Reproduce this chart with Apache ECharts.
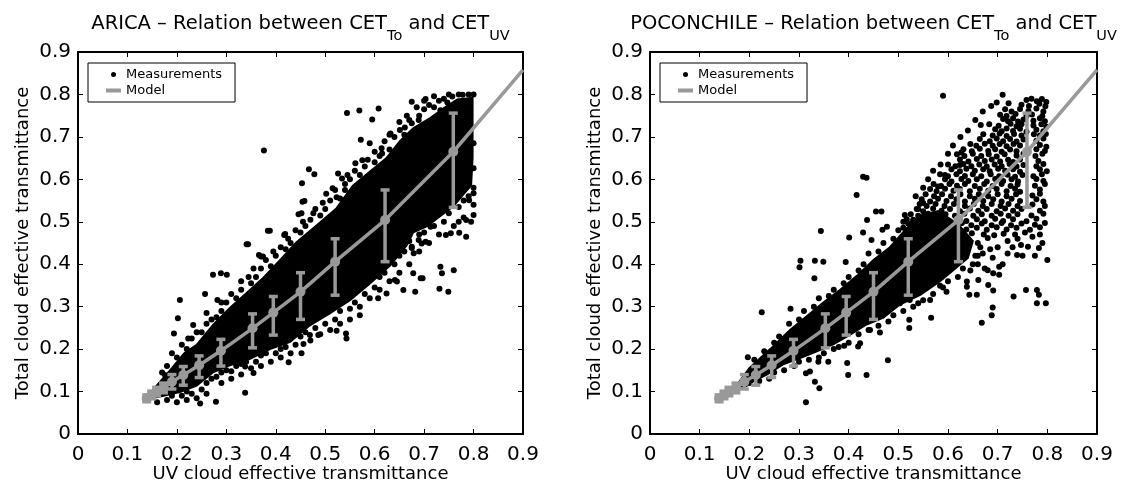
<!DOCTYPE html>
<html><head><meta charset="utf-8">
<script src="https://cdn.jsdelivr.net/npm/echarts@6/dist/echarts.min.js"></script>
<style>html,body{margin:0;padding:0;background:#fff}#c{width:1136px;height:491px}</style>
</head><body><div id="c"></div>
<script>
const FONT = 'DejaVu Sans';
const GRAY = '#999999';

// Axis ticks (both panels)
const axisMin = 0, axisMax = 0.9, axisStep = 0.1;

// Model (identical in both panels): bin centres, error bar ends, line end
const modelX  = [0.139,0.149,0.159,0.173,0.190,0.213,0.245,0.289,0.353,0.395,0.450,0.520,0.621,0.759];
const modelY  = [0.084,0.092,0.100,0.108,0.123,0.139,0.162,0.196,0.249,0.286,0.335,0.406,0.504,0.665];
const modelLo = [0.076,0.083,0.090,0.097,0.106,0.115,0.133,0.160,0.203,0.233,0.270,0.327,0.406,0.534];
const modelHi = [0.092,0.101,0.110,0.120,0.140,0.159,0.184,0.223,0.283,0.324,0.380,0.460,0.575,0.756];
const modelEnd = [0.9, 0.858];

// ARICA: outline of the saturated (solid black) cloud
const aricaCore = [
 [0.145,0.095],[0.16,0.115],[0.19,0.155],[0.215,0.19],[0.24,0.21],[0.274,0.258],[0.307,0.297],[0.341,0.332],
 [0.375,0.368],[0.409,0.41],[0.442,0.452],[0.483,0.492],[0.523,0.532],[0.556,0.585],[0.59,0.618],[0.624,0.65],
 [0.651,0.69],[0.678,0.72],[0.713,0.745],[0.74,0.768],[0.767,0.788],[0.798,0.792],
 [0.798,0.72],[0.798,0.65],[0.795,0.585],
 [0.781,0.567],[0.76,0.538],[0.733,0.514],[0.706,0.49],[0.678,0.475],[0.665,0.445],[0.631,0.397],[0.591,0.355],
 [0.55,0.315],[0.51,0.285],[0.469,0.256],[0.429,0.217],[0.388,0.2],[0.348,0.177],[0.307,0.162],[0.274,0.146],
 [0.24,0.114],[0.206,0.099],[0.173,0.09],[0.15,0.085]
];
// ARICA: individual measurements outside / on the edge of the solid cloud
const aricaPoints = [
 [0.376,0.668],[0.544,0.756],[0.569,0.762],[0.595,0.741],[0.608,0.767],[0.467,0.624],[0.478,0.612],[0.344,0.447],
 [0.374,0.418],[0.388,0.479],[0.419,0.471],[0.452,0.52],[0.458,0.549],[0.502,0.566],[0.515,0.579],[0.523,0.558],
 [0.526,0.614],[0.534,0.602],[0.54,0.589],[0.561,0.638],[0.572,0.693],[0.59,0.685],[0.586,0.646],[0.614,0.673],
 [0.615,0.661],[0.632,0.708],[0.651,0.716],[0.661,0.722],[0.675,0.732],[0.689,0.74],[0.675,0.783],[0.703,0.789],
 [0.72,0.796],[0.733,0.763],[0.747,0.781],[0.757,0.795],[0.778,0.799],[0.8,0.8],
 [0.8,0.685],[0.8,0.626],[0.788,0.606],[0.8,0.567],[0.791,0.551],[0.8,0.516],[0.785,0.504],[0.771,0.474],
 [0.754,0.473],[0.744,0.469],[0.785,0.465],[0.713,0.488],[0.706,0.506],[0.699,0.516],[0.726,0.54],[0.72,0.524],
 [0.675,0.441],[0.679,0.426],[0.703,0.453],[0.689,0.457],
 [0.454,0.547],[0.476,0.52],[0.446,0.518],[0.384,0.479],[0.417,0.469],[0.341,0.447],[0.37,0.418],[0.273,0.375],
 [0.289,0.379],[0.301,0.375],[0.257,0.33],[0.282,0.316],[0.206,0.316],[0.202,0.273],[0.194,0.237],[0.233,0.257],
 [0.223,0.225],[0.176,0.139],[0.338,0.159],[0.355,0.144],[0.338,0.097],[0.279,0.076],[0.247,0.072],[0.24,0.084],
 [0.426,0.169],[0.452,0.19],[0.456,0.212],[0.469,0.233],[0.486,0.233],[0.523,0.243],[0.543,0.225],[0.542,0.237],
 [0.57,0.28],[0.607,0.32],[0.624,0.331],[0.645,0.359],[0.678,0.379],[0.693,0.367],[0.682,0.335],[0.658,0.339],
 [0.695,0.449],[0.675,0.438],[0.733,0.394],[0.736,0.379],[0.76,0.386],[0.731,0.342],[0.749,0.335],[0.697,0.367],
 [0.641,0.363],[0.366,0.422],[0.453,0.591],
 [0.17,0.145],[0.18,0.16],[0.2,0.18],[0.22,0.2],[0.23,0.225],[0.25,0.24],[0.26,0.26],[0.28,0.275],[0.29,0.29],
 [0.3,0.31],[0.32,0.32],[0.33,0.34],[0.35,0.355],[0.36,0.37],[0.37,0.39],[0.39,0.395],[0.4,0.42],[0.42,0.435],
 [0.43,0.45],[0.45,0.475],[0.46,0.49],[0.47,0.505],[0.49,0.515],[0.5,0.53],[0.51,0.55],[0.53,0.555],[0.54,0.575],
 [0.55,0.6],[0.57,0.61],[0.58,0.63],[0.6,0.64],[0.61,0.655],[0.63,0.67],[0.64,0.7],[0.66,0.705],[0.67,0.74],
 [0.69,0.75],[0.7,0.765],[0.72,0.77],[0.73,0.785],[0.75,0.8],[0.77,0.8],[0.79,0.8],
 [0.19,0.19],[0.21,0.21],[0.24,0.24],[0.26,0.285],[0.27,0.27],[0.29,0.31],[0.31,0.33],[0.33,0.36],[0.345,0.37],
 [0.355,0.39],[0.38,0.41],[0.395,0.43],[0.41,0.44],[0.425,0.46],[0.44,0.48],[0.455,0.5],[0.48,0.53],[0.495,0.545],
 [0.52,0.575],[0.545,0.61],[0.56,0.62],[0.575,0.645],[0.6,0.665],[0.62,0.69],[0.63,0.705],[0.65,0.735],
 [0.665,0.75],[0.685,0.77],[0.7,0.785],[0.71,0.775],[0.74,0.79],
 [0.16,0.075],[0.18,0.08],[0.19,0.09],[0.21,0.09],[0.22,0.1],[0.23,0.095],[0.25,0.105],[0.26,0.12],[0.27,0.13],
 [0.28,0.135],[0.29,0.145],[0.3,0.15],[0.31,0.148],[0.32,0.16],[0.33,0.165],[0.34,0.17],[0.36,0.17],[0.37,0.185],
 [0.38,0.19],[0.4,0.19],[0.41,0.2],[0.42,0.205],[0.44,0.21],[0.45,0.23],[0.46,0.24],[0.48,0.25],[0.5,0.26],
 [0.52,0.27],[0.53,0.29],[0.55,0.295],[0.56,0.31],[0.58,0.33],[0.6,0.345],[0.61,0.37],[0.62,0.38],[0.64,0.4],
 [0.65,0.42],[0.66,0.43],[0.67,0.455],[0.69,0.47],[0.7,0.475],[0.72,0.49],[0.74,0.5],[0.75,0.52],[0.77,0.535],
 [0.78,0.55],[0.79,0.56],[0.8,0.58],
 [0.2,0.075],[0.22,0.08],[0.26,0.095],[0.29,0.12],[0.31,0.13],[0.33,0.14],[0.35,0.155],[0.37,0.16],[0.39,0.17],
 [0.41,0.18],[0.43,0.19],[0.47,0.22],[0.49,0.235],[0.51,0.245],[0.53,0.26],[0.55,0.27],[0.57,0.3],[0.59,0.32],
 [0.61,0.34],[0.63,0.36],[0.65,0.38],[0.67,0.4],[0.69,0.43],[0.71,0.45],[0.73,0.47],[0.76,0.49],[0.78,0.51],
 [0.8,0.54],[0.795,0.5],[0.77,0.5]
];

// POCONCHILE: outline of the saturated cloud
const pocoCore = [
 [0.175,0.115],[0.2,0.155],[0.242,0.2],[0.282,0.245],[0.315,0.277],[0.349,0.31],[0.383,0.34],[0.416,0.372],
 [0.45,0.41],[0.483,0.44],[0.517,0.485],[0.545,0.515],[0.58,0.525],[0.62,0.495],[0.65,0.455],
 [0.64,0.415],[0.62,0.395],[0.584,0.36],[0.544,0.328],[0.503,0.305],[0.47,0.274],[0.436,0.258],[0.403,0.234],
 [0.369,0.211],[0.336,0.195],[0.302,0.179],[0.268,0.164],[0.235,0.14],[0.208,0.124],[0.19,0.11]
];
// POCONCHILE: individual measurements
const pocoPoints = [
 [0.59,0.797],[0.344,0.478],[0.401,0.463],[0.429,0.475],[0.416,0.563],[0.429,0.606],[0.436,0.604],[0.455,0.524],
 [0.437,0.504],[0.468,0.481],[0.446,0.457],
 [0.303,0.408],[0.301,0.393],[0.332,0.408],[0.349,0.406],[0.331,0.367],[0.394,0.405],[0.225,0.287],[0.283,0.295],
 [0.197,0.181],[0.314,0.075],[0.341,0.108],[0.314,0.143],[0.322,0.147],[0.339,0.17],[0.359,0.17],[0.332,0.123],
 [0.397,0.167],[0.399,0.139],[0.436,0.139],[0.479,0.174],[0.419,0.206],[0.423,0.214],[0.391,0.208],[0.443,0.245],
 [0.463,0.239],[0.522,0.25],[0.522,0.269],[0.566,0.274],[0.668,0.262],[0.688,0.28],[0.69,0.298],[0.643,0.328],
 [0.658,0.328],[0.691,0.338],[0.638,0.347],[0.661,0.363],[0.638,0.359],[0.691,0.379],[0.674,0.39],[0.597,0.335],
 [0.564,0.316],[0.584,0.349],[0.54,0.308],[0.523,0.316],[0.503,0.308],
 [0.747,0.445],[0.761,0.441],[0.739,0.422],[0.783,0.438],[0.8,0.41],[0.68,0.386],[0.703,0.394],[0.703,0.375],
 [0.681,0.351],[0.732,0.324],[0.779,0.339],[0.783,0.328],[0.757,0.339],[0.779,0.308],[0.797,0.308],
 [0.58,0.455],[0.6,0.445],[0.62,0.452],[0.64,0.46],[0.66,0.45],[0.68,0.462],[0.7,0.44],[0.72,0.455],[0.74,0.46],
 [0.77,0.465],[0.79,0.45],[0.67,0.425],[0.69,0.415],[0.72,0.425],[0.75,0.42],[0.71,0.4],[0.66,0.4],[0.645,0.385],
 [0.6,0.42],[0.57,0.44],[0.665,0.44],[0.685,0.435],[0.73,0.44],[0.775,0.42],[0.655,0.42],
 [0.758,0.787],[0.768,0.79],[0.779,0.784],[0.789,0.789],[0.798,0.782],
 [0.715,0.765],[0.728,0.76],[0.745,0.766],[0.762,0.761],[0.778,0.767],[0.792,0.76],
 [0.711,0.742],[0.721,0.737],[0.731,0.744],[0.741,0.736],[0.752,0.741],[0.772,0.738],[0.785,0.744],[0.795,0.737],
 [0.695,0.718],[0.708,0.713],[0.718,0.72],[0.731,0.714],[0.745,0.719],[0.758,0.712],[0.778,0.717],[0.792,0.713],
 [0.664,0.695],[0.684,0.69],[0.698,0.696],[0.711,0.69],[0.725,0.695],[0.738,0.689],[0.752,0.694],[0.778,0.691],[0.792,0.696],
 [0.631,0.671],[0.648,0.666],[0.664,0.672],[0.681,0.667],[0.695,0.671],[0.708,0.665],[0.725,0.67],[0.738,0.666],[0.778,0.671],[0.795,0.667],
 [0.624,0.647],[0.641,0.642],[0.658,0.648],[0.674,0.643],[0.688,0.647],[0.705,0.642],[0.721,0.646],[0.731,0.641],[0.745,0.647],[0.782,0.643],
 [0.607,0.624],[0.624,0.619],[0.637,0.625],[0.654,0.62],[0.671,0.624],[0.684,0.619],[0.701,0.625],[0.715,0.62],[0.731,0.624],[0.745,0.618],[0.785,0.624],[0.799,0.619],
 [0.594,0.6],[0.607,0.595],[0.627,0.601],[0.641,0.596],[0.658,0.6],[0.678,0.595],[0.695,0.601],[0.711,0.596],[0.728,0.6],[0.741,0.595],[0.778,0.601],[0.792,0.596],
 [0.564,0.577],[0.577,0.572],[0.594,0.578],[0.611,0.573],[0.624,0.577],[0.644,0.572],[0.664,0.578],[0.681,0.573],[0.698,0.577],[0.718,0.572],[0.735,0.578],[0.745,0.571],[0.785,0.576],
 [0.547,0.553],[0.564,0.548],[0.58,0.554],[0.597,0.549],[0.617,0.553],[0.634,0.548],[0.654,0.554],[0.671,0.549],[0.691,0.553],[0.708,0.548],[0.728,0.554],[0.745,0.549],[0.778,0.553],[0.792,0.548],
 [0.537,0.53],[0.55,0.525],[0.57,0.531],[0.587,0.526],[0.604,0.53],[0.624,0.525],[0.644,0.531],[0.661,0.526],[0.678,0.53],[0.698,0.525],[0.715,0.531],[0.731,0.526],[0.748,0.53],[0.785,0.526],
 [0.517,0.506],[0.53,0.501],[0.547,0.507],[0.564,0.502],[0.58,0.506],[0.601,0.501],[0.621,0.507],[0.637,0.502],[0.658,0.506],[0.674,0.501],[0.695,0.507],[0.711,0.502],[0.731,0.506],[0.758,0.501],[0.778,0.507],
 [0.51,0.486],[0.527,0.481],[0.544,0.487],[0.56,0.482],[0.577,0.486],[0.597,0.481],[0.617,0.487],[0.637,0.482],[0.658,0.486],[0.678,0.481],[0.698,0.487],[0.718,0.482],[0.738,0.486],[0.765,0.481],[0.785,0.487],
 [0.748,0.776],[0.763,0.773],[0.784,0.778],[0.796,0.772],[0.722,0.779],
 [0.705,0.752],[0.718,0.749],[0.736,0.754],[0.758,0.75],[0.769,0.753],[0.79,0.749],
 [0.683,0.73],[0.702,0.726],[0.726,0.731],[0.738,0.725],[0.748,0.73],[0.772,0.727],[0.788,0.73],[0.798,0.724],
 [0.671,0.706],[0.69,0.703],[0.704,0.708],[0.718,0.702],[0.733,0.707],[0.748,0.703],[0.773,0.706],[0.785,0.703],[0.797,0.707],
 [0.645,0.683],[0.657,0.679],[0.674,0.684],[0.69,0.679],[0.704,0.683],[0.718,0.678],[0.732,0.683],[0.745,0.68],[0.785,0.681],[0.798,0.677],
 [0.618,0.659],[0.633,0.655],[0.65,0.66],[0.667,0.655],[0.682,0.659],[0.698,0.654],[0.714,0.659],[0.738,0.656],[0.752,0.66],[0.776,0.655],[0.79,0.66],
 [0.6,0.635],[0.615,0.631],[0.631,0.636],[0.647,0.631],[0.663,0.635],[0.678,0.63],[0.694,0.635],[0.708,0.631],[0.724,0.636],[0.738,0.63],[0.752,0.634],[0.778,0.631],[0.792,0.636],
 [0.584,0.612],[0.6,0.607],[0.617,0.612],[0.634,0.608],[0.65,0.612],[0.667,0.607],[0.686,0.612],[0.703,0.607],[0.72,0.611],[0.735,0.606],[0.75,0.61],[0.772,0.607],[0.789,0.612],
 [0.571,0.589],[0.586,0.584],[0.603,0.589],[0.618,0.585],[0.634,0.589],[0.654,0.584],[0.673,0.589],[0.69,0.584],[0.708,0.589],[0.726,0.584],[0.74,0.588],[0.775,0.585],[0.795,0.589],
 [0.555,0.565],[0.572,0.56],[0.588,0.565],[0.606,0.56],[0.625,0.565],[0.644,0.56],[0.662,0.565],[0.681,0.56],[0.7,0.565],[0.718,0.56],[0.737,0.565],[0.77,0.562],[0.785,0.566],
 [0.543,0.542],[0.557,0.537],[0.575,0.542],[0.593,0.537],[0.612,0.542],[0.634,0.537],[0.652,0.542],[0.67,0.537],[0.688,0.542],[0.706,0.537],[0.722,0.542],[0.74,0.537],[0.77,0.541],[0.795,0.537],
 [0.525,0.518],[0.54,0.514],[0.56,0.519],[0.578,0.514],[0.595,0.518],[0.614,0.514],[0.633,0.519],[0.651,0.514],[0.668,0.518],[0.688,0.514],[0.706,0.519],[0.722,0.514],[0.74,0.518],[0.768,0.515],[0.792,0.519],
 [0.52,0.496],[0.537,0.492],[0.553,0.497],[0.57,0.492],[0.59,0.496],[0.607,0.492],[0.628,0.497],[0.647,0.492],[0.668,0.496],[0.688,0.492],[0.708,0.497],[0.727,0.492],[0.748,0.496],[0.775,0.493],[0.795,0.497],
 [0.6,0.47],[0.625,0.468],[0.648,0.473],[0.672,0.47],[0.693,0.468],[0.712,0.472],[0.735,0.47],[0.755,0.475],[0.785,0.47],
 [0.56,0.6],[0.57,0.62],[0.585,0.635],[0.6,0.66],[0.61,0.68],[0.625,0.7],[0.64,0.715],[0.655,0.74],[0.67,0.76],
 [0.55,0.58],[0.535,0.56],
 [0.71,0.799],[0.698,0.781],[0.687,0.773],[0.666,0.728],[0.627,0.663],[0.624,0.634],[0.594,0.61],[0.58,0.583],
 [0.55,0.544],[0.513,0.516],[0.466,0.524],[0.477,0.488],
 [0.21,0.175],[0.23,0.195],[0.25,0.215],[0.26,0.23],[0.28,0.26],[0.3,0.27],[0.31,0.29],[0.33,0.3],[0.34,0.32],
 [0.36,0.325],[0.37,0.34],[0.39,0.355],[0.4,0.37],[0.42,0.385],[0.43,0.4],[0.44,0.425],[0.46,0.43],[0.47,0.45],
 [0.49,0.46],[0.5,0.48],[0.51,0.5],[0.53,0.505],[0.54,0.53],
 [0.2,0.12],[0.22,0.125],[0.24,0.13],[0.25,0.145],[0.27,0.15],[0.29,0.16],[0.3,0.17],[0.32,0.175],[0.34,0.18],
 [0.35,0.19],[0.37,0.2],[0.38,0.205],[0.4,0.215],[0.42,0.235],[0.44,0.245],[0.46,0.255],[0.48,0.265],[0.49,0.28],
 [0.51,0.29],[0.53,0.3],[0.55,0.315],[0.57,0.33],[0.59,0.345],[0.6,0.36],[0.62,0.37],[0.63,0.39],[0.65,0.4],[0.66,0.42]
];

const panelTitles = ['ARICA', 'POCONCHILE'];
const xName = 'UV cloud effective transmittance';
const yName = 'Total cloud effective transmittance';

const fmt = v => (Math.abs(v) < 1e-9 ? '0' : v.toFixed(1));
const grids = [{left:78, top:52, width:445, height:382}, {left:650, top:52, width:447, height:382}];

const xAxes = [], yAxes = [];
grids.forEach((g, i) => {
  const base = {type:'value', gridIndex:i, min:axisMin, max:axisMax, interval:axisStep, splitLine:{show:false},
    axisLine:{show:true, onZero:false, lineStyle:{color:'#000', width:2}},
    axisTick:{show:true, inside:true, length:5, lineStyle:{color:'#000', width:1}}};
  xAxes.push(Object.assign({}, base, {position:'bottom', name:xName, nameLocation:'middle', nameGap:31,
    nameMoveOverlap:false,
    nameTextStyle:{fontFamily:FONT, fontSize:18, color:'#000'},
    axisLabel:{show:true, margin:11, formatter:fmt, fontFamily:FONT, fontSize:20, color:'#000', showMinLabel:true, showMaxLabel:true}}));
  xAxes.push(Object.assign({}, base, {position:'top', axisLabel:{show:false}}));
  yAxes.push(Object.assign({}, base, {position:'left', name:yName, nameLocation:'middle', nameGap:46,
    nameMoveOverlap:false,
    nameTextStyle:{fontFamily:FONT, fontSize:18, color:'#000'},
    axisLabel:{show:true, margin:7, formatter:fmt, fontFamily:FONT, fontSize:20, color:'#000', showMinLabel:true, showMaxLabel:true}}));
  yAxes.push(Object.assign({}, base, {position:'right', axisLabel:{show:false}}));
});

function coreSeries(points, ai) {
  return {type:'custom', name:'Measurements', xAxisIndex:ai, yAxisIndex:ai, coordinateSystem:'cartesian2d',
    data: points, clip:true, silent:true, z:1, itemStyle:{color:'#000'},
    renderItem: function (params, api) {
      if (params.dataIndex !== 0) return null;
      return {type:'polygon', shape:{points: points.map(p => api.coord(p))},
        style:{fill:'#000', stroke:'#000', lineWidth:2}};
    }};
}
function pointSeries(points, ai) {
  return {type:'scatter', name:'Measurements', xAxisIndex:ai, yAxisIndex:ai, data:points, symbol:'circle',
    symbolSize:6, itemStyle:{color:'#000', opacity:1}, silent:true, z:2};
}
function modelSeries(ai) {
  const lineData = modelX.map((x, i) => [x, modelY[i]]).concat([modelEnd]);
  const barData = modelX.map((x, i) => [x, modelLo[i], modelHi[i]]);
  return [
    {type:'line', name:'Model', xAxisIndex:ai, yAxisIndex:ai, data:lineData, symbol:'none', silent:true, z:4,
      itemStyle:{color:GRAY}, lineStyle:{color:GRAY, width:3.5}},
    {type:'custom', name:'Model', xAxisIndex:ai, yAxisIndex:ai, data:barData, encode:{x:0, y:[1,2]}, silent:true, z:5,
      itemStyle:{color:GRAY},
      renderItem: function (params, api) {
        const x = api.value(0), a = api.coord([x, api.value(1)]), b = api.coord([x, api.value(2)]);
        const w = 4.5, st = {stroke:GRAY, lineWidth:3.5};
        return {type:'group', children:[
          {type:'line', shape:{x1:a[0], y1:a[1], x2:b[0], y2:b[1]}, style:st},
          {type:'line', shape:{x1:a[0]-w, y1:a[1], x2:a[0]+w, y2:a[1]}, style:st},
          {type:'line', shape:{x1:b[0]-w, y1:b[1], x2:b[0]+w, y2:b[1]}, style:st}
        ]};
      }},
    {type:'scatter', name:'Model', xAxisIndex:ai, yAxisIndex:ai, data:modelX.map((x, i) => [x, modelY[i]]),
      symbol:'circle', symbolSize:10, itemStyle:{color:GRAY, opacity:1}, silent:true, z:6}
  ];
}

const series = [
  coreSeries(aricaCore, 0), pointSeries(aricaPoints, 0), ...modelSeries(0),
  coreSeries(pocoCore, 2), pointSeries(pocoPoints, 2), ...modelSeries(2)
];

const rich = {
  m:{fontFamily:FONT, fontSize:19.5, fontWeight:'normal', color:'#000', lineHeight:22, verticalAlign:'top'},
  s:{fontFamily:FONT, fontSize:14.5, fontWeight:'normal', color:'#000', lineHeight:16, padding:[15,0,0,0], verticalAlign:'top'}
};
const titles = panelTitles.map((t, i) => ({
  text: '{m|' + t + ' \u2013 Relation between CET}{s|To}{m| and CET}{s|UV}',
  left: grids[i].left + grids[i].width / 2, top: 14, textAlign:'center', padding:0,
  textStyle:{fontWeight:'normal', rich: rich}
}));

const legends = grids.map((g, i) => ({
  left: g.left + 10, top: 63, orient:'vertical', itemWidth:15, itemHeight:5, itemGap:3, itemTextGap:8,
  padding:[5,13,5,18], borderColor:'#000', borderWidth:1, borderRadius:0, backgroundColor:'#fff', selectedMode:false,
  textStyle:{fontFamily:FONT, fontSize:13, color:'#000'},
  data:[{name:'Measurements', icon:'circle'}, {name:'Model', icon:'path://M0,0L15,0L15,4L0,4Z'}]
}));

const chart = echarts.init(document.getElementById('c'), null, {renderer:'canvas'});
chart.setOption({
  animation:false, backgroundColor:'#fff',
  title: titles, legend: legends, grid: grids, xAxis: xAxes, yAxis: yAxes, series: series
});
</script></body></html>
